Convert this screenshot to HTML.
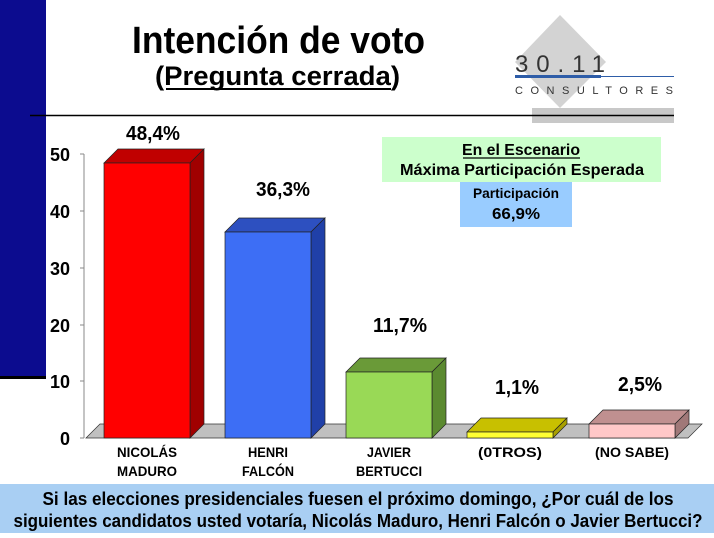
<!DOCTYPE html>
<html><head><meta charset="utf-8"><style>
body{margin:0;width:714px;height:533px;overflow:hidden;background:#fff;font-family:"Liberation Sans",sans-serif}
</style></head><body>
<svg width="714" height="533" viewBox="0 0 714 533" xmlns="http://www.w3.org/2000/svg" font-family="Liberation Sans, sans-serif">
<rect x="0" y="0" width="46" height="378" fill="#0c0c8f"/>
<rect x="0" y="376" width="46" height="3" fill="#000"/>
<polygon points="560,15 606,62 560,108 515,62" fill="#d3d3d3"/>
<rect x="532" y="108" width="142" height="15" fill="#c8c8c8"/>
<line x1="30" y1="115.5" x2="674" y2="115.5" stroke="#000" stroke-width="1.5"/>
<text x="515" y="72" font-size="24" fill="#333" textLength="90" lengthAdjust="spacing">30.11</text>
<rect x="515" y="75" width="86" height="3" fill="#2e5da8"/>
<rect x="601" y="76" width="73" height="1" fill="#2e5da8"/>
<text x="515" y="94" font-size="11" fill="#333" textLength="158" lengthAdjust="spacing">CONSULTORES</text>
<text x="132" y="53" font-size="38" font-weight="bold" textLength="293" lengthAdjust="spacingAndGlyphs">Intención de voto</text>
<text x="155" y="85" font-size="27" font-weight="bold" textLength="245" lengthAdjust="spacingAndGlyphs">(Pregunta cerrada)</text>
<line x1="166" y1="89" x2="391" y2="89" stroke="#000" stroke-width="2"/>
<line x1="84" y1="154" x2="84" y2="438" stroke="#888"/>
<g stroke="#888"><line x1="80" y1="154" x2="84" y2="154"/><line x1="80" y1="211" x2="84" y2="211"/><line x1="80" y1="268" x2="84" y2="268"/><line x1="80" y1="325" x2="84" y2="325"/><line x1="80" y1="381" x2="84" y2="381"/><line x1="80" y1="438" x2="84" y2="438"/></g>
<g font-size="18" font-weight="bold" text-anchor="end"><text x="70" y="161">50</text><text x="70" y="218">40</text><text x="70" y="275">30</text><text x="70" y="332">20</text><text x="70" y="388">10</text><text x="70" y="445">0</text></g>
<polygon points="86,438 100,424 702,424 688,438" fill="#c0c0c0" stroke="#333" stroke-width="0.7"/>
<g stroke="#222" stroke-width="0.7">
<polygon points="104,163 118,149 204,149 190,163" fill="#c00000"/><polygon points="190,163 204,149 204,424 190,438" fill="#a00000"/><rect x="104" y="163" width="86" height="275" fill="#ff0000"/>
<polygon points="225,232 239,218 325,218 311,232" fill="#2d50c0"/><polygon points="311,232 325,218 325,424 311,438" fill="#2040a8"/><rect x="225" y="232" width="86" height="206" fill="#3d6ef5"/>
<polygon points="346,372 360,358 446,358 432,372" fill="#6a9a38"/><polygon points="432,372 446,358 446,424 432,438" fill="#5b8a30"/><rect x="346" y="372" width="86" height="66" fill="#99d956"/>
<polygon points="467,432 481,418 567,418 553,432" fill="#c8c000"/><polygon points="553,432 567,418 567,424 553,438" fill="#a8a000"/><rect x="467" y="432" width="86" height="6" fill="#ffff33"/>
<polygon points="589,424 603,410 689,410 675,424" fill="#c09090"/><polygon points="675,424 689,410 689,424 675,438" fill="#a07878"/><rect x="589" y="424" width="86" height="14" fill="#ffc8c8"/>
</g>
<g font-size="20" font-weight="bold" text-anchor="middle"><text x="153" y="140" textLength="54" lengthAdjust="spacingAndGlyphs">48,4%</text><text x="283" y="196" textLength="54" lengthAdjust="spacingAndGlyphs">36,3%</text><text x="400" y="332" textLength="54" lengthAdjust="spacingAndGlyphs">11,7%</text><text x="517" y="394" textLength="44" lengthAdjust="spacingAndGlyphs">1,1%</text><text x="640" y="391" textLength="44" lengthAdjust="spacingAndGlyphs">2,5%</text></g>
<g font-size="14" font-weight="bold" text-anchor="middle"><text x="147" y="457" textLength="60" lengthAdjust="spacingAndGlyphs">NICOLÁS</text><text x="147" y="476" textLength="60" lengthAdjust="spacingAndGlyphs">MADURO</text><text x="268" y="457" textLength="40" lengthAdjust="spacingAndGlyphs">HENRI</text><text x="268" y="476" textLength="52" lengthAdjust="spacingAndGlyphs">FALCÓN</text><text x="389" y="457" textLength="44" lengthAdjust="spacingAndGlyphs">JAVIER</text><text x="389" y="476" textLength="66" lengthAdjust="spacingAndGlyphs">BERTUCCI</text><text x="510" y="457" textLength="64" lengthAdjust="spacingAndGlyphs">(0TROS)</text><text x="632" y="457" textLength="74" lengthAdjust="spacingAndGlyphs">(NO SABE)</text></g>
<rect x="382" y="137" width="279" height="45" fill="#ccffcc"/>
<text x="521" y="155" font-size="16" font-weight="bold" text-anchor="middle" textLength="118" lengthAdjust="spacingAndGlyphs">En el Escenario</text>
<line x1="463" y1="158" x2="580" y2="158" stroke="#000" stroke-width="1.2"/>
<text x="522" y="175" font-size="16" font-weight="bold" text-anchor="middle" textLength="244" lengthAdjust="spacingAndGlyphs">Máxima  Participación  Esperada</text>
<rect x="460" y="182" width="112" height="45" fill="#99ccff"/>
<text x="516" y="198" font-size="14" font-weight="bold" text-anchor="middle" textLength="86" lengthAdjust="spacingAndGlyphs">Participación</text>
<text x="516" y="219" font-size="16" font-weight="bold" text-anchor="middle" textLength="48" lengthAdjust="spacingAndGlyphs">66,9%</text>
<rect x="0" y="484" width="714" height="49" fill="#a9cff3"/>
<text x="358" y="505" font-size="18" font-weight="bold" text-anchor="middle" textLength="631" lengthAdjust="spacingAndGlyphs">Si las elecciones presidenciales fuesen el próximo domingo, ¿Por cuál de los</text>
<text x="358" y="527" font-size="18" font-weight="bold" text-anchor="middle" textLength="689" lengthAdjust="spacingAndGlyphs">siguientes candidatos usted votaría, Nicolás Maduro, Henri Falcón o Javier Bertucci?</text>
</svg>
</body></html>
